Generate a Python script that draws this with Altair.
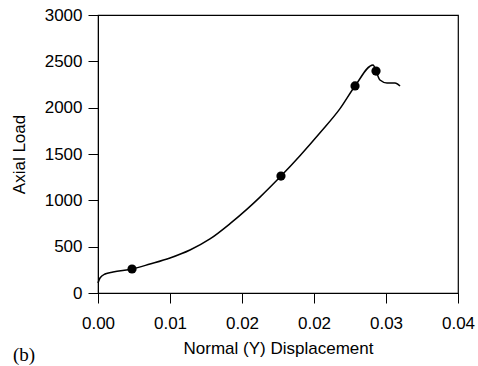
import altair as alt
import pandas as pd

# curve
curve_x = [0.0, 0.00022, 0.00078, 0.00167, 0.00378, 0.00578, 0.0080, 0.01022,
           0.01244, 0.01467, 0.01656, 0.0180, 0.02033, 0.02244, 0.02467,
           0.02689, 0.02856, 0.03056, 0.03089, 0.03133, 0.03211, 0.0330,
           0.03356]
curve_y = [108, 162, 205, 227, 259, 313, 378, 464, 583, 748, 905, 1035, 1262,
           1482, 1730, 1990, 2234, 2460, 2395, 2298, 2266, 2266, 2234]

# marked points
pt_x = [0.00378, 0.02033, 0.02856, 0.03089]
pt_y = [259, 1262, 2234, 2395]

x_ticks = [0.0, 0.008, 0.016, 0.024, 0.032, 0.04]
y_ticks = [0, 500, 1000, 1500, 2000, 2500, 3000]

curve = pd.DataFrame({"x": curve_x, "y": curve_y})
pts = pd.DataFrame({"x": pt_x, "y": pt_y})

FONT = "Liberation Sans"

xs = alt.Scale(domain=[0, 0.04], nice=False, zero=False)
ys = alt.Scale(domain=[0, 3000], nice=False)

xaxis = alt.Axis(values=x_ticks, format=".2f", title="Normal (Y) Displacement",
                 grid=False, tickSize=10, labelPadding=12, labelFontSize=17,
                 titleFontSize=17, titleFontWeight="normal", labelFont=FONT,
                 titleFont=FONT, domainColor="black", tickColor="black",
                 labelColor="black", titleColor="black", titleY=47,
                 labelFlush=False)
yaxis = alt.Axis(values=y_ticks, format="d", title="Axial Load", grid=False,
                 tickSize=10, labelPadding=6, labelFontSize=17,
                 titleFontSize=17, titleFontWeight="normal", labelFont=FONT,
                 titleFont=FONT, domainColor="black", tickColor="black",
                 labelColor="black", titleColor="black", titleX=-70)

line = alt.Chart(curve).mark_line(color="black", strokeWidth=1.5,
                                  interpolate="monotone").encode(
    x=alt.X("x:Q", scale=xs, axis=xaxis),
    y=alt.Y("y:Q", scale=ys, axis=yaxis),
    order="x:Q",
)
points = alt.Chart(pts).mark_point(filled=True, color="black", size=85,
                                   opacity=1).encode(
    x=alt.X("x:Q", scale=xs),
    y=alt.Y("y:Q", scale=ys),
)
label = alt.Chart(pd.DataFrame({"t": ["(b)"]})).mark_text(
    font="Liberation Serif", fontSize=19, align="left", baseline="middle",
    color="black").encode(
    text="t:N", x=alt.value(-85), y=alt.value(340))

chart = alt.layer(line, points, label).properties(
    width=360, height=278,
    autosize=alt.AutoSizeParams(type="none"),
    padding={"left": 98, "top": 15, "right": 20, "bottom": 73},
    background="white",
).configure_view(stroke="black", strokeWidth=1.2)

chart.save("out.html", embed_options={"renderer": "svg", "actions": False})
